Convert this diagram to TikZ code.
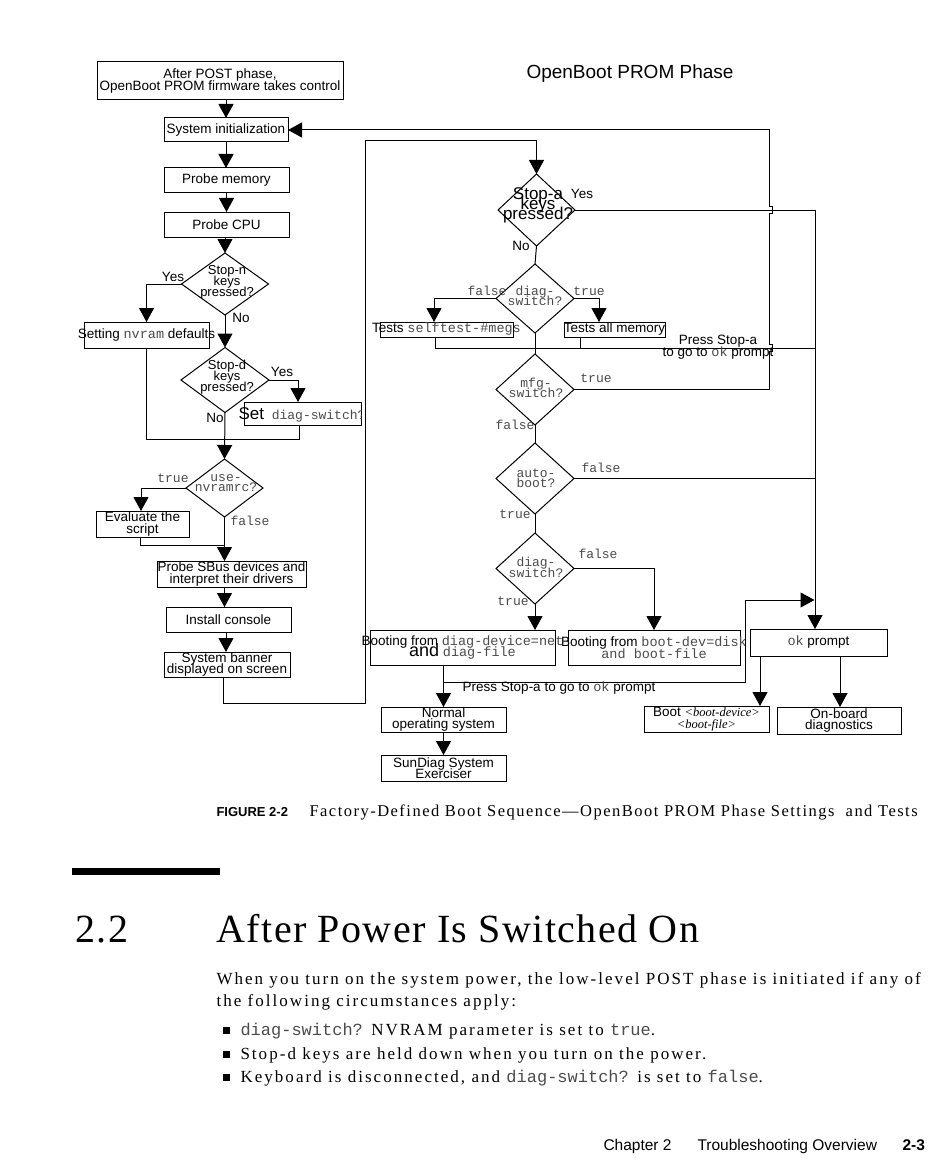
\documentclass[tikz,border=0pt]{standalone}
\usepackage{fontspec}
\usetikzlibrary{shapes.geometric,arrows.meta}
\newfontfamily\hvf{Liberation Sans}
\newfontfamily\tmf{Liberation Serif}
\newfontfamily\tmbody[LetterSpace=12]{Liberation Serif}
\newfontfamily\tmcap[LetterSpace=9]{Liberation Serif}
\newfontfamily\tmhead[LetterSpace=3.5]{Liberation Serif}
\newfontfamily\crf{Liberation Mono}
\definecolor{monoc}{gray}{0.3}
\newcommand{\mtt}[1]{{\crf\color{monoc}#1}}
\newcommand{\zc}[1]{\makebox[0pt]{#1}}
\newcommand{\tightls}{\lineskiplimit=-30pt\relax\lineskip=0pt\relax}
\tikzset{
  box/.style={draw, rectangle, inner sep=0pt, outer sep=0pt, line width=1pt, align=center,
    font=\hvf\fontsize{13.5}{11.5}\selectfont\tightls},
  dia/.style={draw, diamond, inner sep=0pt, outer sep=0pt, line width=1pt},
  dtxt/.style={align=center, inner sep=0pt, font=\hvf\fontsize{13}{11}\selectfont\tightls},
  dtxtm/.style={align=center, inner sep=0pt, text=monoc, font=\crf\fontsize{13}{10.5}\selectfont\tightls},
  lbl/.style={inner sep=0pt, font=\hvf\fontsize{13.5}{11}\selectfont},
  mlbl/.style={inner sep=0pt, text=monoc, font=\crf\fontsize{13}{11}\selectfont},
  arr/.style={-{Triangle[length=14pt,width=15pt]}},
  para/.style={anchor=base west, inner sep=0pt, font=\tmbody\fontsize{17}{22}\selectfont},
}
\begin{document}
\begin{tikzpicture}[x=1pt,y=-1pt,line width=1pt]
\useasboundingbox (0,0) rectangle (950,1161);
\fill[white] (0,0) rectangle (950,1161);

% ---------- left column ----------
\node[box,minimum width=246pt,minimum height=38pt] (post) at (220,81) {\zc{After POST phase,}\\\zc{OpenBoot PROM firmware takes control}};
\node[box,minimum width=124pt,minimum height=24pt] (init) at (226,130) {\zc{System initialization}};
\node[box,minimum width=125pt,minimum height=25pt] (mem) at (226.5,180.5) {\zc{Probe memory}};
\node[box,minimum width=125pt,minimum height=25pt] (cpu) at (226.5,224.5) {\zc{Probe CPU}};
\node[dia,minimum width=87pt,minimum height=62pt] (sn) at (225,284) {};
\node[dtxt] (snt) at (227,282) {Stop-n\\keys\\pressed?};
\node[box,minimum width=125pt,minimum height=26pt] (nv) at (146.5,335) {\zc{Setting \mtt{nvram} defaults}};
\node[dia,minimum width=88pt,minimum height=65pt] (sd) at (225,380) {};
\node[dtxt] (sdt) at (227,377) {Stop-d\\keys\\pressed?};
\node[box,minimum width=117pt,minimum height=23pt] (set) at (302.5,413.5) {};
\begin{scope}
  \clip (230,396) rectangle (361,432);
  \node[anchor=base west,inner sep=0pt,font=\crf\fontsize{13}{13}\selectfont] (sett) at (238,419) {{\hvf\fontsize{17}{17}\selectfont Set} \mtt{diag-switch?}};
\end{scope}
\node[dia,minimum width=77pt,minimum height=58pt] (un) at (224.5,488) {};
\node[dtxtm] (unt) at (226,483) {use-\\nvramrc?};
\node[box,minimum width=93pt,minimum height=26pt] (ev) at (142.5,524) {\zc{Evaluate the}\\\zc{script}};
\node[box,minimum width=149pt,minimum height=26pt] (sbus) at (231.5,574) {\zc{Probe SBus devices and}\\\zc{interpret their drivers}};
\node[box,minimum width=125pt,minimum height=25pt] (con) at (228.5,619.5) {\zc{Install console}};
\node[box,minimum width=126pt,minimum height=25pt] (ban) at (227,664.5) {\zc{System banner}\\\zc{displayed on screen}};

\node[inner sep=0pt,font=\hvf\fontsize{19}{19}\selectfont] (hdr) at (630,74) {OpenBoot PROM Phase};

% ---------- middle column ----------
\node[dia,minimum width=77pt,minimum height=72pt] (sa) at (536.5,210) {};
\node[dtxt,font=\hvf\fontsize{17}{10}\selectfont\tightls] (sat) at (538,205) {Stop-a\\keys\\pressed?};
\node[dia,minimum width=78pt,minimum height=69pt] (ds1) at (535,298.5) {};
\node[dtxtm] (ds1t) at (535,296) {diag-\\switch?};
\node[box,minimum width=133pt,minimum height=15pt] (sel) at (446.5,329.5) {\zc{Tests \mtt{selftest-\#megs}}};
\node[box,minimum width=101pt,minimum height=15pt] (all) at (614.5,329.5) {\zc{Tests all memory}};
\node[dia,minimum width=78pt,minimum height=71pt] (mfg) at (535,389.5) {};
\node[dtxtm] (mfgt) at (536,388) {mfg-\\switch?};
\node[dia,minimum width=78pt,minimum height=71pt] (ab) at (535,478.5) {};
\node[dtxtm] (abt) at (536,478) {auto-\\boot?};
\node[dia,minimum width=78pt,minimum height=71pt] (ds2) at (535,568.5) {};
\node[dtxtm] (ds2t) at (536,567.5) {diag-\\switch?};

% ---------- bottom boxes ----------
\node[box,minimum width=185pt,minimum height=35pt] (bdiag) at (462.5,647.5) {\zc{Booting from \mtt{diag-device=net}}\\\zc{{\fontsize{18}{11}\selectfont and} \mtt{diag-file}}};
\node[box,minimum width=172pt,minimum height=35pt] (bdisk) at (654,647.5) {\zc{Booting from \mtt{boot-dev=disk}}\\\zc{\mtt{and boot-file}}};
\node[box,minimum width=137pt,minimum height=27pt] (ok) at (818.5,642.5) {\zc{\mtt{ok} prompt}};
\node[box,minimum width=125pt,minimum height=25pt] (nos) at (443.5,719.5) {\zc{Normal}\\\zc{operating system}};
\node[box,minimum width=125pt,minimum height=26pt] (sund) at (443.5,768) {\zc{SunDiag System}\\\zc{Exerciser}};
\node[box,minimum width=125pt,minimum height=26pt] (bootb) at (706.5,719) {\zc{Boot {\tmf\itshape\fontsize{12.5}{10}\selectfont <boot-device>}}\\\zc{{\tmf\itshape\fontsize{12.5}{10}\selectfont <boot-file>}}};
\node[box,minimum width=124pt,minimum height=27pt] (onb) at (839,720.5) {\zc{On-board}\\\zc{diagnostics}};

% ---------- helper coordinates ----------
\coordinate (rx) at (769,0);
\coordinate (ox) at (815,0);
\coordinate (mg) at (299,439);
\coordinate (bl) at (365,703);
\coordinate (tl) at (365,141);
\coordinate (tj) at (443.5,682);
\coordinate (jx) at (745,600);
\coordinate (a1) at (760,0);
\coordinate (a2) at (840,0);

% ---------- left connectors ----------
\draw[arr] (post.south -| init.north) -- (init.north);
\draw[arr] (init.south) -- (init.south |- mem.north);
\draw[arr] (mem.south) -- (cpu.north);
\draw[arr] (cpu.south -| sn.north) -- (sn.north);
\draw[arr] (sn.west) -| (nv.north);
\draw[arr] (sn.south) -- (sd.north);
\draw[arr] (sd.east) -| ([xshift=-4.5pt]set.north);
\draw (nv.south) |- (mg) -- (mg |- set.south);
\draw[arr] (sd.south) -- (un.north);
\draw[arr] (un.west) -| ([xshift=-1.5pt]ev.north);
\draw ([xshift=-2.5pt]ev.south) |- (225,545);
\draw[arr] (un.south) -- (un.south |- sbus.north);
\draw[arr] (sbus.south -| un.south) -- (con.north -| un.south);
\draw[arr] (con.south -| 226,0) -- (ban.north -| 226,0);
\draw[arr] ([xshift=-4pt]ban.south) |- (bl) -- (tl) -| (sa.north);

% ---------- middle connectors ----------
\draw (sa.south) -- (ds1.north);
\draw[arr] (ds1.west) -| ([xshift=-12.5pt]sel.north);
\draw[arr] (ds1.east) -| ([xshift=-15.5pt]all.north);
\draw ([xshift=-11.5pt]sel.south) |- (ox |- 0,348);
\draw ([xshift=-34.5pt]all.south) -- ++(0,11);
\draw (ds1.south) -- (mfg.north);
\draw (mfg.south) -- (ab.north);
\draw (ab.south) -- (ds2.north);
\draw[arr] (mfg.east) -- (mfg.east -| rx) -- (769,351.5) -- (772,351.5) -- (772,344.5) -- (769,344.5)
  -- (769,213.5) -- (772,213.5) -- (772,206.5) -- (769,206.5) -- (init.east -| rx) -- (init.east);
\draw[arr] (sa.east) -- (sa.east -| ox) -- (ok.north -| ox);
\draw (ab.east) -- (ab.east -| ox);
\draw[arr] (ds2.east) -| (bdisk.north);
\draw[arr] (ds2.south) -- (ds2.south |- bdiag.north);
\draw[arr] (bdiag.south -| nos.north) -- (nos.north);
\draw[arr] (tj) -| (jx) -- (814.5,600);
\draw[arr] (nos.south) -- (sund.north);
\draw[arr] (ok.south -| a1) -- (bootb.north -| a1);
\draw[arr] (ok.south -| a2) -- (onb.north -| a2);

% ---------- labels ----------
\node[lbl] (l1) at (173,277) {Yes};
\node[lbl] (l2) at (241,318) {No};
\node[lbl] (l3) at (282,372) {Yes};
\node[lbl] (l4) at (215,418) {No};
\node[mlbl] (l5) at (173,478) {true};
\node[mlbl] (l6) at (250,521) {false};
\node[lbl] (l7) at (582,194) {Yes};
\node[lbl] (l8) at (521,246) {No};
\node[mlbl] (l9) at (487,291) {false};
\node[mlbl] (l10) at (589,291) {true};
\node[mlbl] (l11) at (596,378) {true};
\node[mlbl] (l12) at (515,425) {false};
\node[mlbl] (l13) at (601,468) {false};
\node[mlbl] (l14) at (515,514) {true};
\node[mlbl] (l15) at (598,554) {false};
\node[mlbl] (l16) at (513,601) {true};
\node[lbl,align=center,font=\hvf\fontsize{13.5}{12}\selectfont\tightls] (l17) at (718,347) {Press Stop-a\\to go to \mtt{ok} prompt};
\node[lbl] (l18) at (559,688) {Press Stop-a to go to \mtt{ok} prompt};

% ---------- page text ----------
\node[anchor=base west,inner sep=0pt,font=\hvf\bfseries\fontsize{13}{13}\selectfont] (figl) at (216,816) {FIGURE 2-2};
\node[anchor=base west,inner sep=0pt,font=\tmcap\fontsize{16.5}{16.5}\selectfont] (figc) at (309,816) {Factory-Defined Boot Sequence—OpenBoot PROM Phase Settings\ \ and Tests};
\fill (72,868) rectangle (220,875);
\node[anchor=base west,inner sep=0pt,font=\tmhead\fontsize{40}{40}\selectfont] (secn) at (75,942) {2.2};
\node[anchor=base west,inner sep=0pt,font=\tmhead\fontsize{40}{40}\selectfont] (sect) at (216,942) {After Power Is Switched On};
\node[para] (p1) at (216,984) {When you turn on the system power, the low-level POST phase is initiated if any of};
\node[para] (p2) at (216,1006) {the following circumstances apply:};
\fill (223,1026.5) rectangle (230,1033.5);
\fill (223,1050.5) rectangle (230,1057.5);
\fill (223,1073.5) rectangle (230,1080.5);
\node[para] (b1) at (240,1035) {\mtt{diag-switch?} NVRAM parameter is set to \mtt{true}.};
\node[para] (b2) at (240,1059) {Stop-d keys are held down when you turn on the power.};
\node[para] (b3) at (240,1082) {Keyboard is disconnected, and \mtt{diag-switch?} is set to \mtt{false}.};
\node[anchor=base west,inner sep=0pt,font=\hvf\fontsize{15.5}{15.5}\selectfont] (f1) at (603,1150) {Chapter 2};
\node[anchor=base west,inner sep=0pt,font=\hvf\fontsize{15.5}{15.5}\selectfont] (f2) at (697,1150) {Troubleshooting Overview};
\node[anchor=base west,inner sep=0pt,font=\hvf\bfseries\fontsize{15.5}{15.5}\selectfont] (f3) at (902,1150) {2-3};
\end{tikzpicture}
\end{document}
